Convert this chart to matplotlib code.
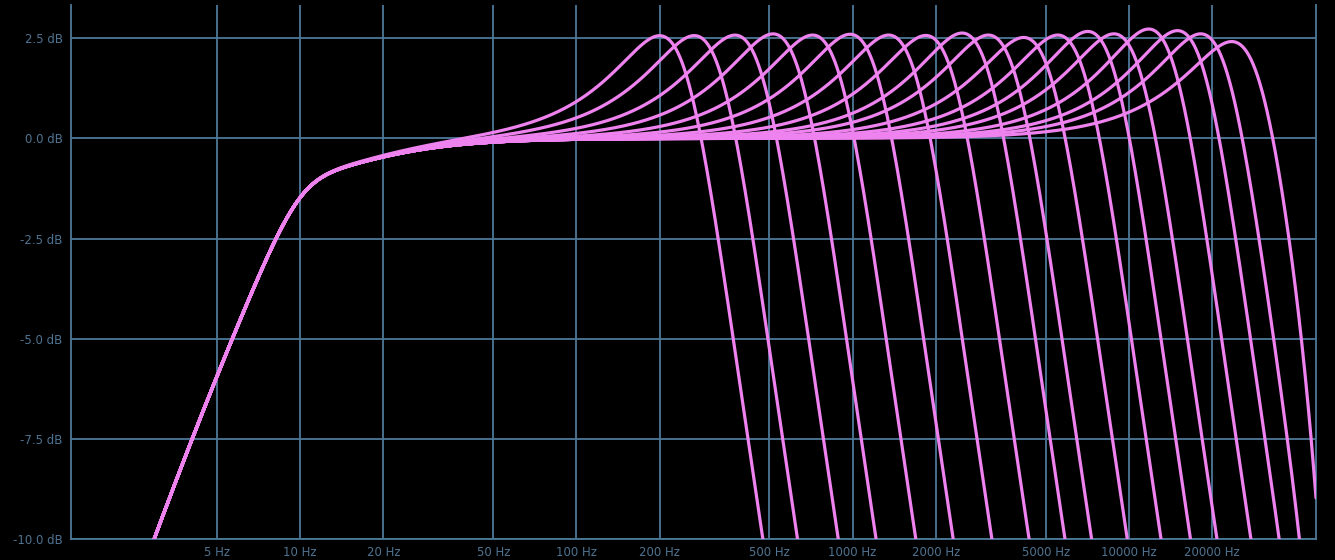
import numpy as np
import matplotlib
matplotlib.use("Agg")
import matplotlib.pyplot as plt

# resonant low-pass sweep: peak frequency (Hz) and peak gain (dB) of each curve
peak_hz = [200, 267, 375, 515, 716, 979, 1350, 1840, 2490, 3100,
           4160, 5530, 7100, 8830, 11800, 15000, 18200, 23600]
peak_db = [2.57, 2.57, 2.58, 2.61, 2.58, 2.60, 2.58, 2.57, 2.63, 2.58,
           2.52, 2.58, 2.67, 2.61, 2.73, 2.69, 2.61, 2.42]

# input stage shared by every curve
hp_corner = 9.0                       # first-order DC block (Hz)
bump_hz, bump_db, bump_q = 10.0, 1.1, 1.0   # low-end resonance
aa_corner, aa_order = 49200, 5        # output anti-alias low-pass

x_ticks = [5, 10, 20, 50, 100, 200, 500, 1000, 2000, 5000, 10000, 20000]
y_ticks = [-10.0, -7.5, -5.0, -2.5, 0.0, 2.5]

BG = "#000000"
GRID = "#4d7898"
LABEL = "#4f7390"
CURVE = "#ee82ee"


def q_from_peak(db):
    g2 = 10 ** (db / 10.0)
    q2 = (g2 + np.sqrt(g2 * g2 - g2)) / 2.0
    return np.sqrt(q2)


def input_stage(f):
    s = 1j * f / hp_corner
    h = s / (1 + s)
    a = 10 ** (bump_db / 40.0)
    sb = 1j * f / bump_hz
    h *= (sb ** 2 + sb * a / bump_q + 1) / (sb ** 2 + sb / (a * bump_q) + 1)
    h /= np.sqrt(1 + (f / aa_corner) ** (2 * aa_order))
    return h


def response_db(f, fpk, db):
    q = q_from_peak(db)
    f0 = fpk / np.sqrt(1 - 1 / (2 * q * q))
    r = f / f0
    h = 1.0 / (1 - r ** 2 + 1j * r / q)
    return 20 * np.log10(np.abs(h * input_stage(f)))


def main():
    freqs = np.geomspace(1.48, 47600, 3000)

    fig = plt.figure(figsize=(13.35, 5.6), dpi=100, facecolor=BG)
    ax = fig.add_axes([71 / 1335, 21 / 560, 1245 / 1335, 534 / 560])
    ax.set_facecolor(BG)

    for fpk, db in zip(peak_hz, peak_db):
        ax.plot(freqs, response_db(freqs, fpk, db), color=CURVE, lw=2.3,
                solid_capstyle="round", zorder=3)

    ax.set_xscale("log")
    ax.set_xlim(1.48, 47600)
    ax.set_ylim(-10, 3.33)

    ax.set_xticks(x_ticks)
    ax.set_xticklabels([f"{t} Hz" for t in x_ticks])
    ax.xaxis.set_minor_locator(matplotlib.ticker.NullLocator())
    ax.set_yticks(y_ticks)
    ax.set_yticklabels([f"{t:.1f} dB" for t in y_ticks])

    ax.tick_params(length=0, colors=LABEL, labelsize=8.5)
    ax.tick_params(axis="x", pad=5)
    ax.tick_params(axis="y", pad=6)
    ax.grid(True, color=GRID, lw=1.3, zorder=1)
    ax.set_axisbelow(True)

    for side in ["left", "bottom", "right"]:
        ax.spines[side].set_color(GRID)
        ax.spines[side].set_linewidth(1.3)
    ax.spines["top"].set_visible(False)

    fig.savefig("out.png", dpi=100, facecolor=BG)


if __name__ == "__main__":
    main()
